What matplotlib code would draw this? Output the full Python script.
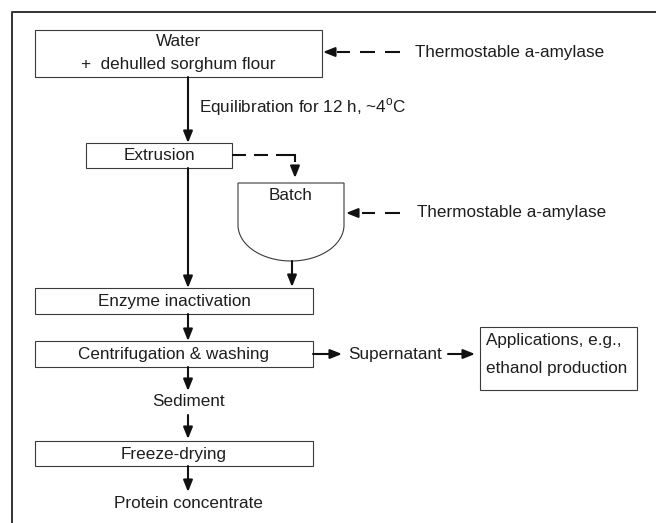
import numpy as np
import matplotlib
matplotlib.use("Agg")
import matplotlib.pyplot as plt
from matplotlib.patches import Rectangle, Polygon

plt.rcParams['font.family'] = ['Liberation Sans', 'DejaVu Sans']

# ---- content ----
box_labels = ["Water\n+  dehulled sorghum flour", "Extrusion", "Enzyme inactivation",
              "Centrifugation & washing", "Freeze-drying"]
batch_label = "Batch"
enzyme_label = "Thermostable a-amylase"
equil_label = r"Equilibration for 12 h, ~4$^\mathregular{o}$C"
free_labels = ["Sediment", "Protein concentrate", "Supernatant"]
app_lines = ["Applications, e.g.,", "ethanol production"]

# ---- layout (pixel coords) ----
boxes = [(35, 30, 322, 77), (86, 143, 232, 168), (35, 288, 313, 314),
         (35, 341, 313, 367), (35, 441, 313, 466)]
app_box = (480, 327, 637, 390)

fig = plt.figure(figsize=(6.56, 5.23), dpi=100)
ax = fig.add_axes([0, 0, 1, 1])
ax.set_xlim(0, 656)
ax.set_ylim(523, 0)
ax.axis('off')

FS = 12.3
TXT = '#1e1e1e'
BOXC = '#3a3a3a'
ALW = 1.5

# frame (left and top only)
ax.plot([12, 12, 656], [523, 11.5, 11.5], color='#333333', lw=1.4, solid_capstyle='butt')

def box(b, lw=0.8):
    x0, y0, x1, y1 = b
    ax.add_patch(Rectangle((x0, y0), x1 - x0, y1 - y0, fill=False, ec=BOXC, lw=lw))

for b, lab in zip(boxes, box_labels):
    box(b)
    cx = (b[0] + b[2]) / 2
    cy = (b[1] + b[3]) / 2
    if "\n" in lab:
        l1, l2 = lab.split("\n")
        ax.text(cx, 41, l1, ha='center', va='center', fontsize=FS, color=TXT)
        ax.text(cx, 64, l2, ha='center', va='center', fontsize=FS, color=TXT)
    else:
        ax.text(cx, cy + 0.5, lab, ha='center', va='center', fontsize=FS, color=TXT)

box(app_box)
ax.text(486, 341, app_lines[0], ha='left', va='center', fontsize=FS, color=TXT)
ax.text(486, 369, app_lines[1], ha='left', va='center', fontsize=FS, color=TXT)

# batch vessel
bx0, bx1, by0, by1, bbot = 238, 344, 183, 225, 261
t = np.linspace(np.pi, 0, 60)
cxb = (bx0 + bx1) / 2
rx = (bx1 - bx0) / 2
ry = bbot - by1
arc = np.column_stack([cxb + rx * np.cos(t), by1 + ry * np.sin(t)])
pts = np.vstack([[bx0, by0], [bx0, by1], arc, [bx1, by1], [bx1, by0]])
ax.add_patch(Polygon(pts, closed=True, fill=False, ec=BOXC, lw=0.8))
ax.text(cxb, 195, batch_label, ha='center', va='center', fontsize=FS, color=TXT)

def arrow(x0, y0, x1, y1, lw=ALW):
    ax.annotate("", xy=(x1, y1), xytext=(x0, y0),
                arrowprops=dict(arrowstyle='-|>,head_length=0.7,head_width=0.28', lw=lw,
                                color='#111111', shrinkA=0, shrinkB=0, mutation_scale=10))

def seg(xs, ys):
    ax.plot(xs, ys, color='#111111', lw=ALW, solid_capstyle='butt')

# main flow
arrow(188, 77, 188, 143)
arrow(188, 168, 188, 288)
arrow(188, 314, 188, 341)
arrow(188, 367, 188, 391)
arrow(188, 415, 188, 439)
arrow(188, 466, 188, 492)
arrow(292, 261, 292, 287)
arrow(313, 354, 342, 354)
arrow(448, 354, 475, 354)

# enzyme additions (dashed lines with solid arrowheads)
for x0, x1 in [(400, 385), (375, 360), (350, 337)]:
    seg([x0, x1], [52, 52])
arrow(333, 52, 323, 52)
for x0, x1 in [(400, 385), (375, 362)]:
    seg([x0, x1], [213, 213])
arrow(356, 213, 346, 213)
for x0, x1 in [(232, 246), (254, 268), (276, 290)]:
    seg([x0, x1], [155, 155])
seg([289, 295.5], [155, 155])
seg([295, 295], [154.5, 162])
arrow(295, 168, 295, 178)

ax.text(415, 52, enzyme_label, ha='left', va='center', fontsize=FS, color=TXT)
ax.text(417, 213, enzyme_label, ha='left', va='center', fontsize=FS, color=TXT)
ax.text(199, 107, equil_label, ha='left', va='center', fontsize=FS, color=TXT)
ax.text(188, 401, free_labels[0], ha='center', va='center', fontsize=FS, color=TXT)
ax.text(188, 503, free_labels[1], ha='center', va='center', fontsize=FS, color=TXT)
ax.text(348, 354, free_labels[2], ha='left', va='center', fontsize=FS, color=TXT)

fig.savefig("out.png", dpi=100)
